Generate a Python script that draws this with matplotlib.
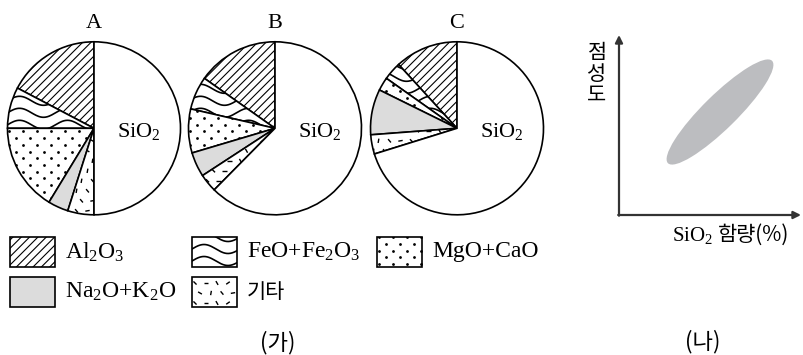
import matplotlib.pyplot as plt
import numpy as np
from matplotlib.patches import Rectangle, Ellipse
from matplotlib.collections import LineCollection

plt.rcParams['mathtext.fontset'] = 'custom'
plt.rcParams['mathtext.rm'] = 'Liberation Serif'
plt.rcParams['mathtext.default'] = 'regular'
plt.rcParams['hatch.linewidth'] = 0.8

# composition (%) of rocks A, B, C
components = ['Al$_2$O$_3$', 'FeO+Fe$_2$O$_3$', 'MgO+CaO', 'Na$_2$O+K$_2$O', '기타', 'SiO$_2$']
rock_names = ['A', 'B', 'C']
rock_a = [17.3, 7.7, 16.3, 3.8, 4.9, 50.0]
rock_b = [15.2, 6.2, 8.2, 4.6, 3.4, 62.4]
rock_c = [11.8, 3.4, 2.5, 8.5, 3.6, 70.2]
styles = ['hatch', 'wave', 'dots', 'gray', 'dash', 'plain']

SERIF = 'Liberation Serif'
KOR = 'Noto Sans CJK KR'


def decorate(ax, patch, style, x0, x1, y0, y1):
    if style == 'hatch':
        patch.set_hatch('////')
    elif style == 'gray':
        patch.set_facecolor('#dcdcdc')
    elif style == 'wave':
        xs = np.linspace(x0, x1, 200)
        for yy in np.arange(y0 - 6, y1 + 12, 12):
            ln, = ax.plot(xs, yy + 4.5 * np.sin(2 * np.pi * (xs - x0) / 48), color='black', lw=1.2, zorder=3)
            ln.set_clip_path(patch)
    elif style == 'dots':
        px, py = [], []
        for i, yy in enumerate(np.arange(y0 + 3, y1, 6.7)):
            off = 7 if i % 2 else 0
            for xx in np.arange(x0 + off + 2, x1, 14):
                px.append(xx)
                py.append(yy)
        sc = ax.scatter(px, py, s=4, color='black', zorder=3, linewidths=0)
        sc.set_clip_path(patch)
    elif style == 'dash':
        angs = [-45, 0, -60, 35, -30, 80, -50, 10]
        segs = []
        k = 0
        for i, yy in enumerate(np.arange(y0 + 4, y1, 10)):
            off = 5 if i % 2 else 0
            for xx in np.arange(x0 + off + 3, x1, 11):
                a = np.deg2rad(angs[k % len(angs)])
                k += 1
                d = 2.2 * np.array([np.cos(a), np.sin(a)])
                segs.append([(xx - d[0], yy - d[1]), (xx + d[0], yy + d[1])])
        lc = LineCollection(segs, colors='black', linewidths=1.0, zorder=3)
        ax.add_collection(lc)
        lc.set_clip_path(patch)


fig = plt.figure(figsize=(8.04, 3.55), dpi=100)
ax = fig.add_axes([0, 0, 1, 1])

centers = [(94, 226.7), (275, 226.7), (457, 226.7)]
R = 86.5
for name, vals, (cx, cy) in zip(rock_names, [rock_a, rock_b, rock_c], centers):
    wedges, _ = ax.pie(vals, radius=R, center=(cx, cy), startangle=90, counterclock=True,
                       colors=['white'] * len(vals), frame=True,
                       wedgeprops=dict(edgecolor='black', linewidth=1.2))
    for w, st in zip(wedges, styles):
        decorate(ax, w, st, cx - R, cx + R, cy - R, cy + R)
    ax.text(cx, 332, name, ha='center', va='center', fontsize=16, family=SERIF)
    ax.text(cx + 45, 224, components[-1], ha='center', va='center', fontsize=16, family=SERIF)

# legend
leg_pos = [(10, 88), (192, 88), (377, 88), (10, 48), (192, 48)]
for (lx, ly), lab, st in zip(leg_pos, components[:5], styles[:5]):
    rect = Rectangle((lx, ly), 45, 30, facecolor='white', edgecolor='black', lw=1.2, zorder=2)
    ax.add_patch(rect)
    decorate(ax, rect, st, lx, lx + 45, ly, ly + 30)
    fam = KOR if lab == '기타' else SERIF
    fs = 15 if lab == '기타' else 17
    ax.text(lx + 55, ly + 15, lab, ha='left', va='center', fontsize=fs, family=fam)

ax.text(278, 12, '(가)', ha='center', va='center', fontsize=16, family=KOR)

# (나) viscosity vs SiO2
ax.annotate('', xy=(619, 320), xytext=(619, 139.3),
            arrowprops=dict(arrowstyle='-|>', color='#333333', lw=1.6, mutation_scale=11, shrinkA=0, shrinkB=0))
ax.annotate('', xy=(801, 140), xytext=(618.2, 140),
            arrowprops=dict(arrowstyle='-|>', color='#333333', lw=1.6, mutation_scale=11, shrinkA=0, shrinkB=0))
ax.add_patch(Ellipse((720, 243), 146, 34, angle=44.5, facecolor='#bcbdc0', edgecolor='none'))
ax.text(597, 281, '점\n성\n도', ha='center', va='center', fontsize=15, family=KOR, linespacing=0.95)
ax.text(672, 120, 'SiO$_2$', ha='left', va='center', fontsize=15, family=SERIF)
ax.text(718, 120, '함량(%)', ha='left', va='center', fontsize=15, family=KOR)
ax.text(703, 13, '(나)', ha='center', va='center', fontsize=16, family=KOR)

ax.set_xlim(0, 804)
ax.set_ylim(0, 355)
ax.set_aspect('auto')
ax.axis('off')
fig.savefig('out.png', dpi=100)
